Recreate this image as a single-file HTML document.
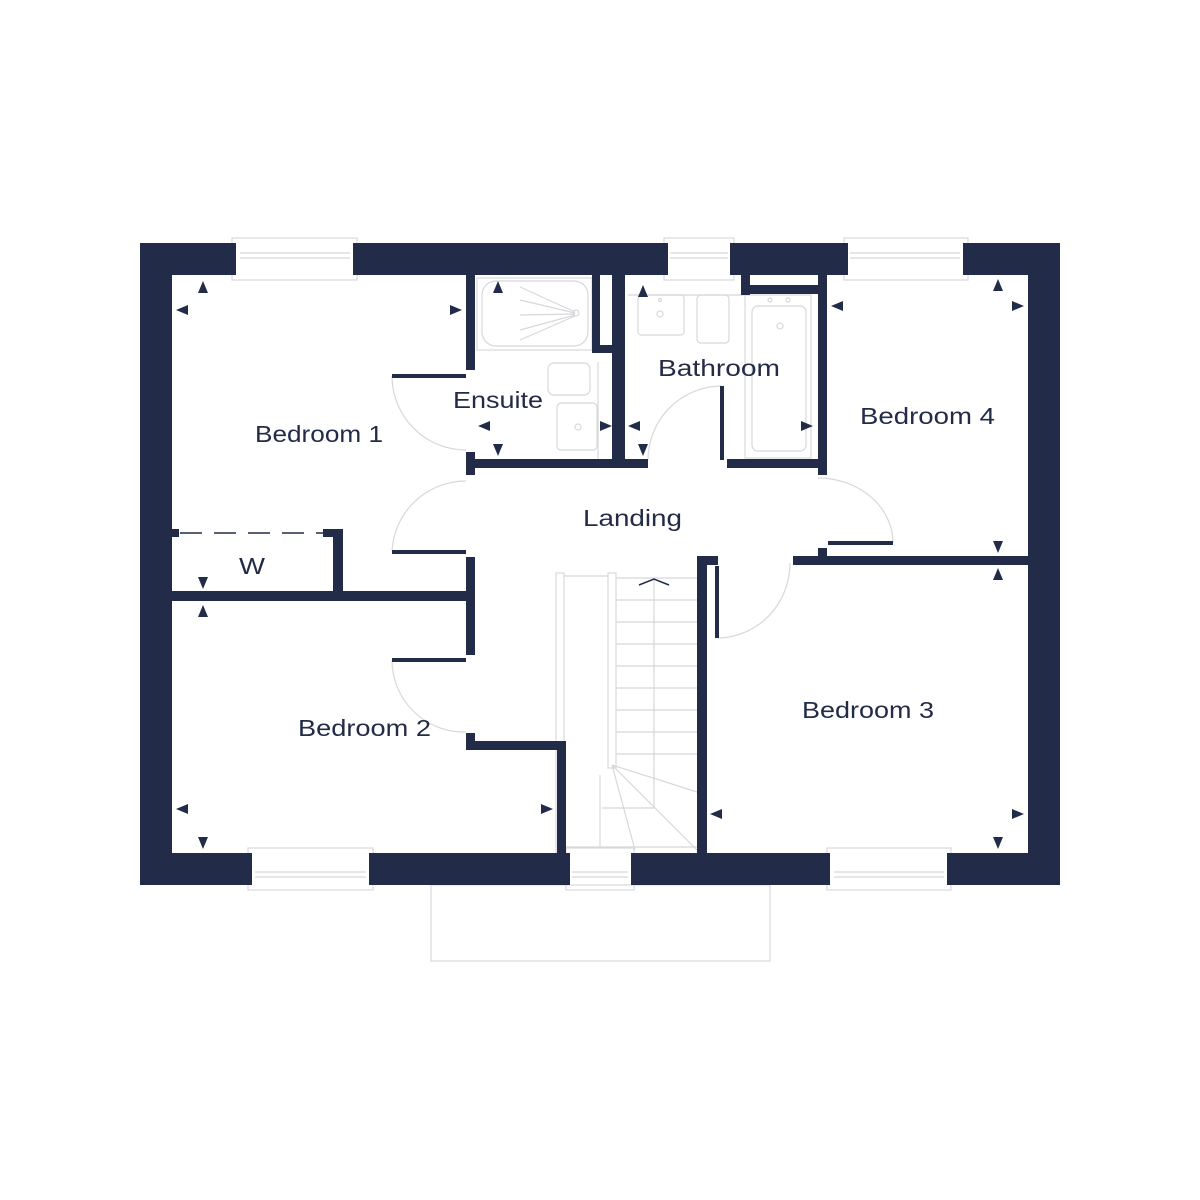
<!DOCTYPE html>
<html><head><meta charset="utf-8"><style>
html,body{margin:0;padding:0;background:#fff;}
svg{display:block}
text{font-family:"Liberation Sans",sans-serif;fill:#222b48;font-size:23px;}
</style></head><body>
<svg width="1200" height="1200" viewBox="0 0 1200 1200" xmlns="http://www.w3.org/2000/svg">
<g fill="none" stroke="#d8d8dc" stroke-width="1.2">
<rect x="232" y="238" width="125" height="42"/><line x1="240" y1="253" x2="350" y2="253"/><line x1="240" y1="258" x2="350" y2="258"/>
<rect x="664" y="238" width="70" height="42"/><line x1="670" y1="253" x2="728" y2="253"/><line x1="670" y1="258" x2="728" y2="258"/>
<rect x="844" y="238" width="124" height="42"/><line x1="850" y1="253" x2="960" y2="253"/><line x1="850" y1="258" x2="960" y2="258"/>
<rect x="248" y="848" width="125" height="42"/><line x1="255" y1="872" x2="366" y2="872"/><line x1="255" y1="877" x2="366" y2="877"/>
<rect x="566" y="848" width="68" height="42"/><line x1="572" y1="872" x2="628" y2="872"/><line x1="572" y1="877" x2="628" y2="877"/>
<rect x="827" y="848" width="124" height="42"/><line x1="834" y1="872" x2="944" y2="872"/><line x1="834" y1="877" x2="944" y2="877"/>
<rect x="431" y="885" width="339" height="76"/>
<path d="M392 376 A74 74 0 0 0 466 450"/>
<path d="M466 481 A74 74 0 0 0 392 551"/>
<path d="M392 660 A72 72 0 0 0 466 732"/>
<path d="M722 386 A74 74 0 0 0 648 460"/>
<path d="M818 478 A75 65 0 0 1 893 543"/>
<path d="M717 638 A73 75 0 0 0 790 563"/>
<rect x="556" y="573" width="8" height="280"/>
<rect x="608" y="573" width="8" height="195"/>
<line x1="564" y1="576" x2="608" y2="576"/>
<line x1="616" y1="578" x2="697" y2="578"/>
<line x1="654" y1="578" x2="654" y2="808"/>
<g>
<line x1="616" y1="600" x2="697" y2="600"/><line x1="616" y1="622" x2="697" y2="622"/><line x1="616" y1="644" x2="697" y2="644"/><line x1="616" y1="666" x2="697" y2="666"/><line x1="616" y1="688" x2="697" y2="688"/><line x1="616" y1="710" x2="697" y2="710"/><line x1="616" y1="732" x2="697" y2="732"/><line x1="616" y1="754" x2="697" y2="754"/>
</g>
<line x1="612" y1="765" x2="697" y2="792"/><line x1="612" y1="765" x2="697" y2="850"/><line x1="612" y1="765" x2="635" y2="850"/>
<line x1="602" y1="808" x2="654" y2="808"/><line x1="600" y1="775" x2="600" y2="847"/>
<line x1="566" y1="847" x2="697" y2="847"/>
<rect x="482" y="281" width="106" height="65" rx="14"/>
<rect x="477" y="278" width="115" height="72"/>
<line x1="520" y1="287" x2="575" y2="312"/><line x1="520" y1="300" x2="575" y2="313"/><line x1="520" y1="315" x2="575" y2="314"/><line x1="520" y1="330" x2="575" y2="315"/><line x1="520" y1="340" x2="575" y2="316"/>
<circle cx="576" cy="313" r="3"/>
<rect x="548" y="363" width="42" height="32" rx="6"/><line x1="598" y1="362" x2="598" y2="460"/>
<rect x="557" y="403" width="40" height="47" rx="4"/><circle cx="578" cy="427" r="3"/>
<rect x="638" y="295" width="46" height="40" rx="3"/><circle cx="660" cy="314" r="3"/><circle cx="660" cy="300" r="1.5"/>
<rect x="697" y="295" width="32" height="48" rx="4"/>
<rect x="745" y="295" width="66" height="163"/>
<rect x="752" y="306" width="54" height="145" rx="6"/>
<circle cx="780" cy="326" r="3"/><circle cx="770" cy="300" r="2"/><circle cx="788" cy="300" r="2"/>
<line x1="628" y1="295" x2="745" y2="295"/>
</g>
<g fill="#222b48">
<rect x="140" y="243" width="32" height="642"/>
<rect x="1028" y="243" width="32" height="642"/>
<rect x="140" y="243" width="96" height="32"/>
<rect x="353" y="243" width="315" height="32"/>
<rect x="730" y="243" width="118" height="32"/>
<rect x="963" y="243" width="97" height="32"/>
<rect x="140" y="853" width="112" height="32"/>
<rect x="369" y="853" width="201" height="32"/>
<rect x="631" y="853" width="199" height="32"/>
<rect x="947" y="853" width="113" height="32"/>
<rect x="466" y="275" width="9" height="95"/>
<rect x="466" y="452" width="9" height="23"/>
<rect x="466" y="459" width="182" height="9"/>
<rect x="612" y="275" width="13" height="193"/>
<rect x="592" y="275" width="8" height="78"/>
<rect x="592" y="345" width="33" height="8"/>
<rect x="727" y="459" width="100" height="9"/>
<rect x="720" y="386" width="4" height="74"/>
<rect x="818" y="275" width="9" height="200"/>
<rect x="741" y="275" width="9" height="20"/>
<rect x="741" y="285" width="86" height="9"/>
<rect x="793" y="556" width="235" height="9"/>
<rect x="818" y="548" width="9" height="9"/>
<rect x="828" y="541" width="65" height="4"/>
<rect x="697" y="556" width="10" height="297"/>
<rect x="697" y="556" width="21" height="9"/>
<rect x="715" y="566" width="4" height="72"/>
<rect x="466" y="557" width="9" height="98"/>
<rect x="392" y="374" width="74" height="4"/>
<rect x="392" y="550" width="74" height="4"/>
<rect x="392" y="658" width="74" height="4"/>
<rect x="172" y="591" width="302" height="10"/>
<rect x="333" y="529" width="10" height="72"/>
<rect x="323" y="529" width="20" height="8"/>
<rect x="172" y="529" width="7" height="8"/>
<rect x="466" y="733" width="9" height="17"/>
<rect x="466" y="741" width="100" height="9"/>
<rect x="557" y="741" width="9" height="112"/>
<path d="M198 293 L208 293 L203 281Z"/><path d="M188 305 L188 315 L176 310Z"/>
<path d="M450 305 L450 315 L462 310Z"/>
<path d="M493 293 L503 293 L498 281Z"/><path d="M490 421 L490 431 L478 426Z"/><path d="M493 444 L503 444 L498 456Z"/>
<path d="M600 421 L600 431 L612 426Z"/><path d="M640 421 L640 431 L628 426Z"/><path d="M638 444 L648 444 L643 456Z"/>
<path d="M638 297 L648 297 L643 285Z"/>
<path d="M843 301 L843 311 L831 306Z"/><path d="M801 421 L801 431 L813 426Z"/>
<path d="M993 291 L1003 291 L998 279Z"/><path d="M1012 301 L1012 311 L1024 306Z"/>
<path d="M993 541 L1003 541 L998 553Z"/><path d="M993 580 L1003 580 L998 568Z"/>
<path d="M198 577 L208 577 L203 589Z"/><path d="M198 617 L208 617 L203 605Z"/>
<path d="M188 804 L188 814 L176 809Z"/><path d="M198 837 L208 837 L203 849Z"/>
<path d="M541 804 L541 814 L553 809Z"/>
<path d="M722 809 L722 819 L710 814Z"/>
<path d="M1012 809 L1012 819 L1024 814Z"/><path d="M993 837 L1003 837 L998 849Z"/>
</g>
<line x1="180" y1="533" x2="323" y2="533" stroke="#222b48" stroke-width="1.5" stroke-dasharray="22,12"/>
<path d="M639 585 L654 579 L669 585" fill="none" stroke="#222b48" stroke-width="1.5"/>
<text x="255" y="442" textLength="128" lengthAdjust="spacingAndGlyphs">Bedroom 1</text>
<text x="453" y="408" textLength="90" lengthAdjust="spacingAndGlyphs">Ensuite</text>
<text x="658" y="376" textLength="122" lengthAdjust="spacingAndGlyphs">Bathroom</text>
<text x="860" y="424" textLength="135" lengthAdjust="spacingAndGlyphs">Bedroom 4</text>
<text x="583" y="526" textLength="99" lengthAdjust="spacingAndGlyphs">Landing</text>
<text x="239" y="574" textLength="26" lengthAdjust="spacingAndGlyphs">W</text>
<text x="298" y="736" textLength="133" lengthAdjust="spacingAndGlyphs">Bedroom 2</text>
<text x="802" y="718" textLength="132" lengthAdjust="spacingAndGlyphs">Bedroom 3</text>
</svg>
</body></html>
